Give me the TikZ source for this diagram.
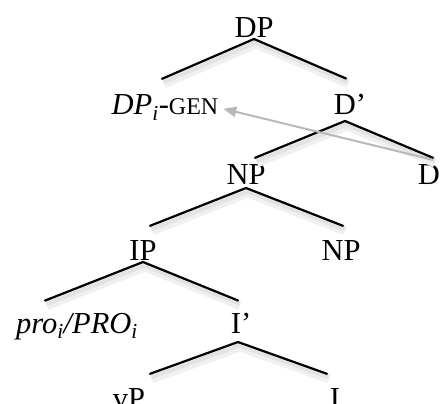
\documentclass[tikz,border=0pt]{standalone}
\usepackage{fontspec}
\setmainfont{Liberation Serif}
\usetikzlibrary{arrows}
\usetikzlibrary{positioning}

\tikzset{
  lbl/.style={inner sep=0pt, anchor=base, font=\fontsize{30.5}{36}\selectfont},
  branch/.style={line width=2.2pt, line cap=round,
    preaction={draw=black!6, line width=9pt, transform canvas={shift={(2pt,-5pt)}}},
    preaction={draw=black!11, line width=4pt, transform canvas={shift={(1.5pt,-3.5pt)}}}},
  move/.style={draw=black!28, line width=2pt, ->, >=triangle 45}
}
\newcommand{\gen}{{\fontsize{24}{28}\selectfont GEN}}

\begin{document}
\begin{tikzpicture}[line join=round,x=1pt,y=-1pt]
\clip(0,0) rectangle (440,404);
% labels
\node[lbl] (dp) at (254,38) {DP};
\node[lbl] (dpgen) at (165,115) {\textit{DP}\textsubscript{\textit{i}}-\gen};
\node[lbl] (dbar) at (350,115) {D’};
\node[lbl] (np) at (246,185) {NP};
\node[lbl] (d) at (429,185) {D};
\node[lbl] (ip) at (143,260) {IP};
\node[lbl] (npr) at (341,260) {NP};
\node[lbl] (pro) at (77,333) {\textit{pro\textsubscript{i}/PRO\textsubscript{i}}};
\node[lbl] (ibar) at (241,333) {I’};
\node[lbl] (vp) at (129,408) {vP};
\node[lbl] (i) at (335,408) {I};
% branches
\draw[branch] ([shift={(-3pt,16pt)}]dpgen.north) -- ([yshift=-1pt]dp.base) -- ([shift={(-4pt,16pt)}]dbar.north);
\draw[branch] ([shift={(9pt,7pt)}]np.north) -- ([shift={(-5pt,-6pt)}]dbar.base) -- ([shift={(4pt,7pt)}]d.north);
\draw[branch] ([shift={(7pt,14pt)}]ip.north) -- ([yshift=-3pt]np.base) -- ([shift={(2pt,14pt)}]npr.north);
\draw[branch] ([shift={(-32pt,12pt)}]pro.north) -- ([yshift=-2pt]ip.base) -- ([shift={(-3pt,12pt)}]ibar.north);
\draw[branch] ([shift={(21pt,14pt)}]vp.north) -- ([shift={(-3pt,-9pt)}]ibar.base) -- ([shift={(-8pt,14pt)}]i.north);
% movement
\draw[move] ([shift={(4pt,5pt)}]d.north) -- ([shift={(5pt,-1pt)}]dpgen.east);
\end{tikzpicture}
\end{document}
